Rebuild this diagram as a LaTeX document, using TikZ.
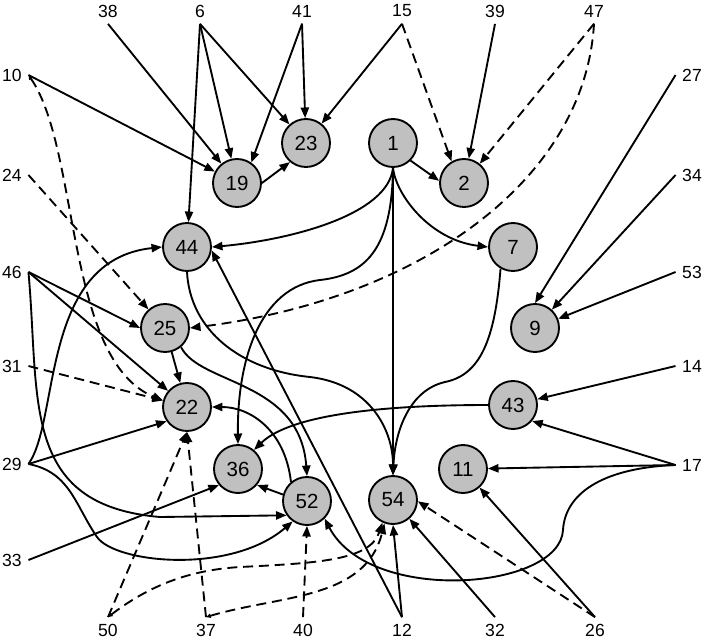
\documentclass[tikz,border=0pt]{standalone}
\usepackage{fontspec}
\setmainfont{Liberation Sans}
\usepackage{tikz}
\usetikzlibrary{arrows.meta}
\definecolor{nodegray}{RGB}{192,192,192}

\begin{document}
\begin{tikzpicture}[x=0.03cm,y=-0.03cm]
          \tikzstyle{circ} = [draw, circle, fill=nodegray, line width=1.6pt,
            minimum size=1.44cm, inner sep=0pt, font=\fontsize{17.5}{19}\selectfont]
          \tikzstyle{ext} = [inner sep=5.5pt, font=\fontsize{15}{17}\selectfont]
          \tikzstyle{line} = [draw,-{Triangle[length=9pt,width=7pt]},line width=1.6pt]
          \tikzstyle{lineD} = [line,dash pattern=on 8.5pt off 5pt]
          \tikzstyle{lineDD} = [lineD,{Triangle[length=4pt,width=3.5pt]}-{Triangle[length=9pt,width=7pt]}]

          \useasboundingbox (0,0) rectangle (709,643);

          % inner nodes
          \node(Node23)[circ] at (306,143) {23};
          \node(Node19)[circ] at (237,183) {19};
          \node(Node1)[circ] at (393,143) {1};
          \node(Node2)[circ] at (464,183) {2};
          \node(Node44)[circ] at (187,247) {44};
          \node(Node7)[circ] at (513,247) {7};
          \node(Node25)[circ] at (165,328) {25};
          \node(Node9)[circ] at (535,328) {9};
          \node(Node22)[circ] at (187,407) {22};
          \node(Node43)[circ] at (513,405) {43};
          \node(Node36)[circ] at (238,469) {36};
          \node(Node11)[circ] at (463,469) {11};
          \node(Node52)[circ] at (307,501) {52};
          \node(Node54)[circ] at (393,500) {54};

          % outer labels
          \node(Ext38)[ext] at (108,11) {38};
          \node(Ext6)[ext] at (200,11) {6};
          \node(Ext41)[ext] at (302,11) {41};
          \node(Ext15)[ext] at (402,11) {15};
          \node(Ext39)[ext] at (495,11) {39};
          \node(Ext47)[ext] at (594,11) {47};
          \node(Ext10)[ext] at (12,75) {10};
          \node(Ext24)[ext] at (12,175) {24};
          \node(Ext46)[ext] at (12,272) {46};
          \node(Ext31)[ext] at (12,366) {31};
          \node(Ext29)[ext] at (12,464) {29};
          \node(Ext33)[ext] at (12,560) {33};
          \node(Ext27)[ext] at (692,75) {27};
          \node(Ext34)[ext] at (692,175) {34};
          \node(Ext53)[ext] at (692,272) {53};
          \node(Ext14)[ext] at (692,366) {14};
          \node(Ext17)[ext] at (692,465) {17};
          \node(Ext50)[ext] at (108,630) {50};
          \node(Ext37)[ext] at (206,630) {37};
          \node(Ext40)[ext] at (303,630) {40};
          \node(Ext12)[ext] at (402,630) {12};
          \node(Ext32)[ext] at (495,630) {32};
          \node(Ext26)[ext] at (595,630) {26};

          \draw[line] (Ext38.south) -- (Node19);
          \draw[line] (Ext6.south) -- (Node19);
          \draw[line] (Ext6.south) -- (Node23);
          \draw[line] (Ext6.south) -- (Node44);
          \draw[line] (Ext41.south) -- (Node19.55);
          \draw[line] (Ext41.south) -- (Node23);
          \draw[line] (Ext15.south) -- (Node23);
          \draw[lineD] (Ext15.south) -- (Node2.120);
          \draw[line] (Ext39.south) -- (Node2);
          \draw[lineD] (Ext47.south) -- (Node2);
          \draw[lineD] (Ext47.south) .. controls (585,180) and (420,300) .. (Node25.east);

          \draw[line] (Ext10.east) -- (Node19);
          \draw[lineDD] (Ext10.east) .. controls (80,150) and (65,360) .. (Node22.165);
          \draw[lineD] (Ext24.east) -- (Node25);
          \draw[line] (Ext46.east) -- (Node25.west);
          \draw[line] (Ext46.east) -- (Node22);
          \draw[line] (Ext46.east) .. controls (40,400) and (20,505) .. (160,517) -- (Node52.-145);
          \draw[lineD] (Ext31.east) -- (Node22.165);
          \draw[line] (Ext29.east) -- (Node22.-145);
          \draw[line] (Ext29.east) .. controls (60,420) and (40,260) .. (Node44.west);
          \draw[line] (Ext29.east) .. controls (70,472) and (75,505) .. (97,537)
            .. controls (115,563) and (230,575) .. (Node52.-125);
          \draw[line] (Ext33.east) -- (Node36.-140);

          \draw[line] (Ext27.west) -- (Node9.north);
          \draw[line] (Ext34.west) -- (Node9);
          \draw[line] (Ext53.west) -- (Node9);
          \draw[line] (Ext14.west) -- (Node43);
          \draw[line] (Ext17.west) -- (Node43.-40);
          \draw[line] (Ext17.west) -- (Node11);
          \draw[line] (Ext17.west) .. controls (600,468) and (565,495) .. (563,530)
            .. controls (560,590) and (370,605) .. (Node52.-45);

          \draw[lineD] (Ext50.north) -- (Node22.south);
          \draw[lineDD] (Ext50.north) .. controls (150,585) and (190,570) .. (240,567)
            .. controls (320,563) and (370,560) .. (Node54.-115);
          \draw[lineD] (Ext37.north) -- (Node22.south);
          \draw[lineDD] (Ext37.north) .. controls (280,595) and (365,600) .. (Node54.-110);
          \draw[lineD] (Ext40.north) -- (Node52.south);
          \draw[line] (Ext12.north) -- (Node54.south);
          \draw[line] (Ext12.north) -- (Node44.-8);
          \draw[line] (Ext32.north) -- (Node54);
          \draw[lineD] (Ext26.north) -- (Node54.-3);
          \draw[line] (Ext26.north) -- (Node11);

          % between inner nodes
          \draw[line] (Node19.east) -- (Node23.-130);
          \draw[line] (Node1.-45) -- (Node2.175);
          \draw[line] (Node1.south) -- (Node54.north);
          \draw[line] (Node1.south) .. controls (388,215) and (290,240) .. (Node44.east);
          \draw[line] (Node1.south) .. controls (392,250) and (365,275) .. (320,280)
            .. controls (260,287) and (237,360) .. (Node36.north);
          \draw[line] (Node1.south) .. controls (396,195) and (430,240) .. (Node7.west);
          \draw[line] (Node7.-120) .. controls (495,340) and (480,375) .. (445,382)
            .. controls (410,390) and (395,430) .. (Node54.north);
          \draw[line] (Node44.south) .. controls (190,330) and (240,370) .. (310,377)
            .. controls (370,384) and (393,430) .. (Node54.north);
          \draw[line] (Node25.-50) .. controls (200,385) and (300,380) .. (Node52.north);
          \draw[line] (Node25) -- (Node22);
          \draw[line] (Node52.130) .. controls (285,430) and (250,407) .. (Node22.east);
          \draw[line] (Node52.165) -- (Node36.-40);
          \draw[line] (Node43.west) .. controls (380,405) and (290,415) .. (Node36.50);
\end{tikzpicture}
\end{document}
